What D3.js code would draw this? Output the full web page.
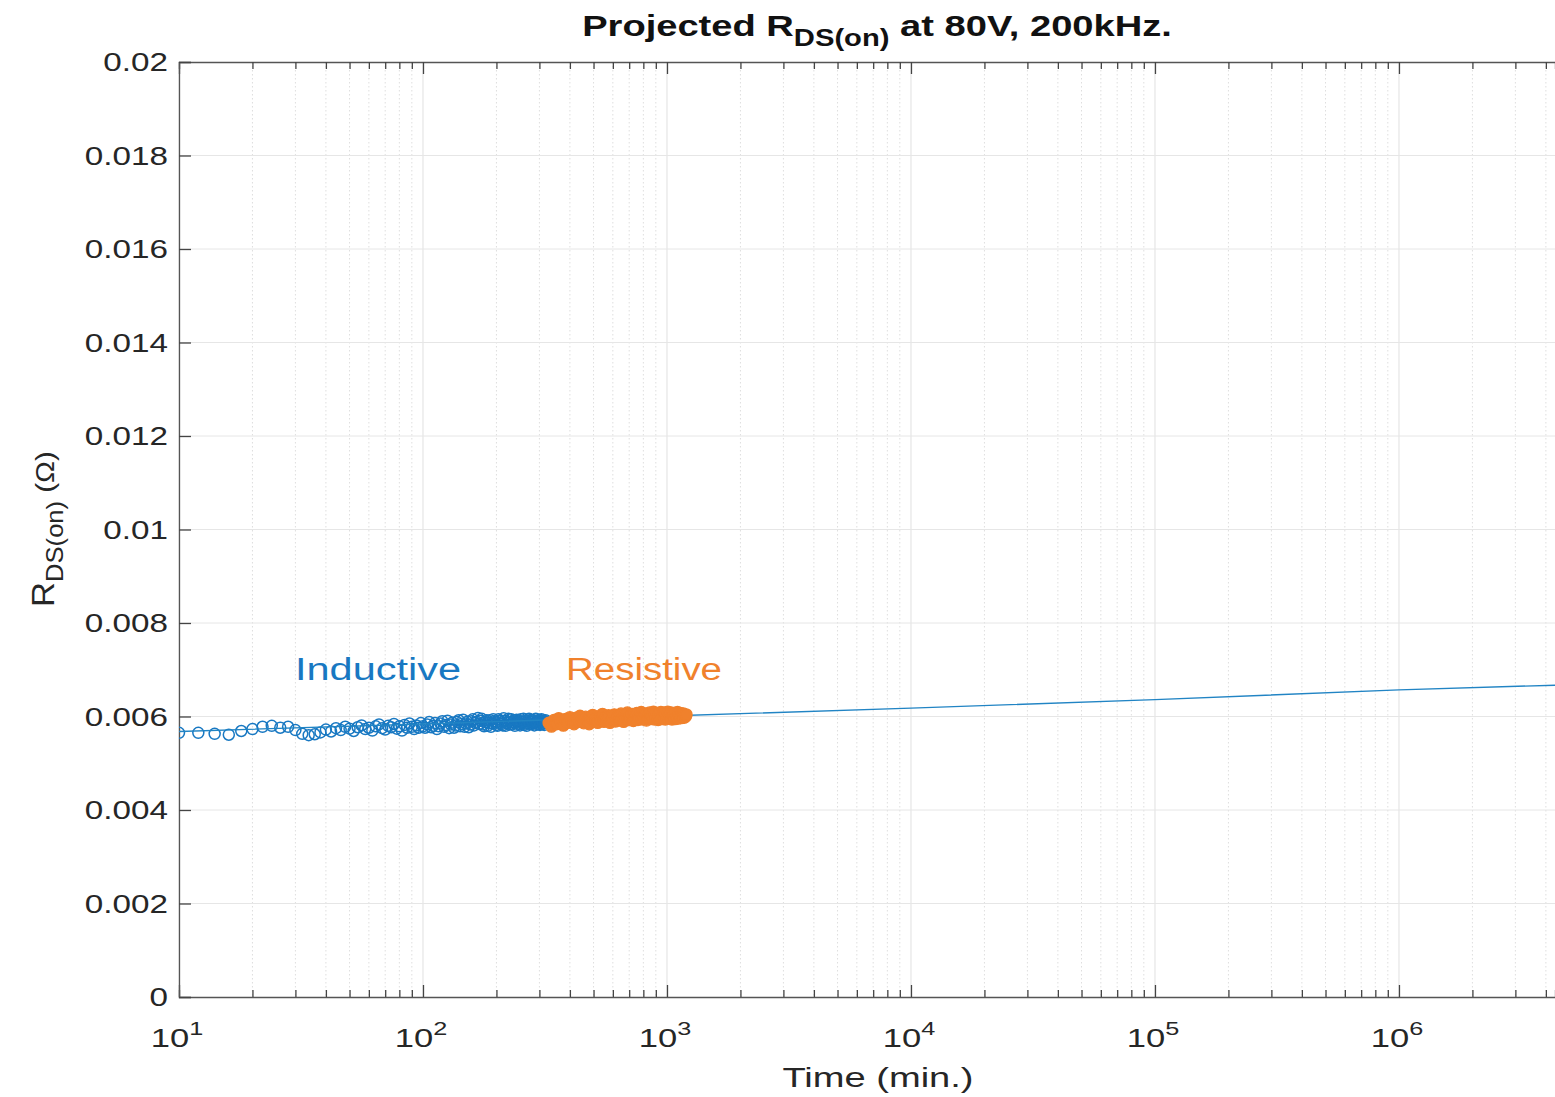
<!DOCTYPE html>
<html><head><meta charset="utf-8">
<script src="https://cdn.jsdelivr.net/npm/d3@7"></script>
<style>body{margin:0;background:#fff}svg{display:block}text{font-family:"Liberation Sans",Arial,sans-serif}</style>
</head><body>
<svg id="c" width="1555" height="1097"></svg>
<script>
// ---- data ----
const yTicks = [0, 0.002, 0.004, 0.006, 0.008, 0.01, 0.012, 0.014, 0.016, 0.018, 0.02];
const yTickLabels = ["0","0.002","0.004","0.006","0.008","0.01","0.012","0.014","0.016","0.018","0.02"];
const xDecades = [1, 2, 3, 4, 5, 6];
const inductiveT = [10,12,14,16,18,20,22,24,26,28,30,32,34,36,38,40,42,44,46,48,50,52,54,56,58,60,62,64,66,68,70,72,74,76,78,80,82,84,86,88,90,92,94,96,98,100,
 104,108,112,116,120,124,128,132,136,140,144,148,152,156,160,164,168,172,176,180,184,188,192,196,200,204,208,212,216,220,224,228,232,236,240,244,248,252,256,260,264,268,272,276,280,284,288,292,296,300,304,308,312,316,320,
 102,106,110,114,118,122,126,130,134,138,142,146,150,154,158,162,166,170,174,178,182,186,190,194,198,202,206,210,214,218,222,226,230,234,238,242,246,250,254,258,262,266,270,274,278,282,286,290,294,298,302,306,310,314,318];
const inductiveR = [.00565,.00565,.00563,.00561,.00569,.00573,.00578,.00580,.00576,.00578,.00571,.00563,.00560,.00562,.00566,.00572,.00568,.00575,.00571,.00578,.00574,.00569,.00577,.00581,.00573,.00576,.00570,.00579,.00583,.00575,.00572,.00580,.00577,.00584,.00574,.00579,.00570,.00582,.00576,.00585,.00578,.00573,.00581,.00576,.00586,.00579,
 .00583,.00577,.00586,.00579,.00590,.00582,.00575,.00587,.00581,.00592,.00584,.00578,.00589,.00583,.00594,.00586,.00597,.00591,.00583,.00588,.00580,.00592,.00585,.00590,.00582,.00594,.00587,.00581,.00591,.00586,.00595,.00588,.00583,.00592,.00586,.00590,.00584,.00594,.00588,.00582,.00591,.00587,.00595,.00589,.00584,.00592,.00586,.00590,.00583,.00593,.00588,.00584,.00591,.00586,.00589,
 .00576,.00588,.00580,.00573,.00585,.00578,.00591,.00583,.00576,.00588,.00579,.00593,.00585,.00577,.00590,.00581,.00589,.00584,.00595,.00579,.00592,.00586,.00578,.00594,.00587,.00580,.00591,.00584,.00596,.00580,.00589,.00583,.00594,.00587,.00580,.00593,.00588,.00581,.00590,.00595,.00585,.00580,.00591,.00584,.00593,.00588,.00581,.00595,.00587,.00591,.00582,.00594,.00587,.00582,.00592];
const resistiveT = [328,336,344,352,360,368,376,384,392,400,408,416,424,432,440,448,456,464,472,480,488,496,504,512,520,528,536,544,552,560,568,576,584,592,600,608,616,624,632,640,648,656,664,672,680,688,696,704,712,720,728,736,744,752,760,768,776,784,792,800,808,816,824,832,840,848,856,864,872,880,888,896,904,912,920,928,936,944,952,960,968,976,984,992,1000,1008,1016,1024,1032,1040,1048,1056,1064,1072,1080,1088,1096,1104,1112,1120,1128,1136,1144,1152,1160,1168,1176,1184,1192,1200];
const resistiveR = [.00586,.00579,.00592,.00584,.00596,.00588,.00581,.00594,.00587,.00598,.00590,.00584,.00597,.00589,.00601,.00592,.00586,.00599,.00591,.00584,.00597,.00603,.00590,.00596,.00587,.00600,.00593,.00605,.00589,.00598,.00592,.00602,.00587,.00599,.00594,.00604,.00590,.00597,.00601,.00592,.00606,.00595,.00589,.00603,.00597,.00608,.00593,.00600,.00595,.00605,.00591,.00602,.00597,.00607,.00593,.00601,.00596,.00609,.00594,.00603,.00598,.00606,.00592,.00601,.00597,.00608,.00595,.00603,.00599,.00610,.00594,.00604,.00598,.00607,.00593,.00602,.00597,.00609,.00595,.00604,.00599,.00608,.00594,.00603,.00598,.00610,.00596,.00605,.00600,.00608,.00594,.00603,.00599,.00607,.00595,.00604,.00600,.00609,.00596,.00605,.00601,.00607,.00597,.00604,.00600,.00606,.00598,.00603,.00600,.00604];
const fitT = [10, 100, 1000, 10000, 100000, 1000000, 4360000];
const fitR = [0.00568, 0.00584, 0.00601, 0.00618, 0.00636, 0.00657, 0.00667];

// ---- layout ----
const L = 179, R = 1555, T = 62, B = 997;
const SX = 1.33; // horizontal stretch of reference text
const svg = d3.select("#c");
const x = d3.scaleLog().domain([10, 4360000]).range([L, R]);
const y = d3.scaleLinear().domain([0, 0.02]).range([B, T]);

const minorVals = [];
for (let e = 1; e <= 6; e++) for (let m = 2; m <= 9; m++) { const v = m * Math.pow(10, e); if (v <= 4360000) minorVals.push(v); }
const majorVals = xDecades.map(e => Math.pow(10, e));
const g = svg.append("g");
g.selectAll(".mg").data(minorVals).join("line")
  .attr("x1", d => x(d)).attr("x2", d => x(d)).attr("y1", T).attr("y2", B)
  .attr("stroke", "#dedede").attr("stroke-width", 1).attr("stroke-dasharray", "1.5,2.5");
g.selectAll(".Mg").data(majorVals).join("line")
  .attr("x1", d => x(d)).attr("x2", d => x(d)).attr("y1", T).attr("y2", B)
  .attr("stroke", "#e0e0e0").attr("stroke-width", 1);
g.selectAll(".yg").data(yTicks.slice(1, -1)).join("line")
  .attr("x1", L).attr("x2", R).attr("y1", d => y(d)).attr("y2", d => y(d))
  .attr("stroke", "#e6e6e6").attr("stroke-width", 1);

const axB = d3.axisBottom(x).tickValues(minorVals.concat(majorVals)).tickSize(-7).tickFormat("");
const axT = d3.axisTop(x).tickValues(minorVals.concat(majorVals)).tickSize(-7).tickFormat("");
const axL = d3.axisLeft(y).tickValues(yTicks).tickSize(-12).tickFormat("");
const gb = svg.append("g").attr("transform", `translate(0,${B})`).call(axB);
const gt = svg.append("g").attr("transform", `translate(0,${T})`).call(axT);
const gl = svg.append("g").attr("transform", `translate(${L},0)`).call(axL);
[gb, gt].forEach(a => a.selectAll(".tick line").filter(d => majorVals.includes(d)).attr("y2", a === gb ? -12 : 12));
[gb, gt, gl].forEach(a => {
  a.select(".domain").attr("stroke", "#555").attr("stroke-width", 1.3);
  a.selectAll(".tick line").attr("stroke", "#444").attr("stroke-width", 1.3);
});

function stext(px, py, sx) {
  return svg.append("text").attr("transform", `translate(${px},${py}) scale(${sx},1)`);
}

yTicks.forEach((d, i) => {
  stext(L - 11, y(d) + 9, SX).attr("text-anchor", "end").attr("font-size", 25)
    .attr("fill", "#262626").text(yTickLabels[i]);
});

xDecades.forEach(e => {
  const t = stext(x(Math.pow(10, e)) - 2, 1047, SX).attr("text-anchor", "middle")
    .attr("font-size", 26).attr("fill", "#262626");
  t.append("tspan").text("10");
  t.append("tspan").attr("dy", -12).attr("font-size", 19).text(e);
});

const clipId = "clp";
svg.append("clipPath").attr("id", clipId).append("rect").attr("x", L).attr("y", T).attr("width", R - L).attr("height", B - T);
const plot = svg.append("g").attr("clip-path", `url(#${clipId})`);
const blue = "#1878c2", orange = "#f0812c";
plot.selectAll(".ind").data(inductiveT).join("circle")
  .attr("cx", d => x(d)).attr("cy", (d, i) => y(inductiveR[i])).attr("r", 5.5)
  .attr("fill", "none").attr("stroke", blue).attr("stroke-width", 1.5);
const line = d3.line().x((d, i) => x(fitT[i])).y((d, i) => y(fitR[i]));
plot.append("path").datum(fitT).attr("d", line).attr("fill", "none")
  .attr("stroke", "#2184c4").attr("stroke-width", 1.4);
plot.selectAll(".res").data(resistiveT).join("circle")
  .attr("cx", d => x(d)).attr("cy", (d, i) => y(resistiveR[i])).attr("r", 5.8)
  .attr("fill", orange).attr("stroke", orange).attr("stroke-width", 1.3);

svg.append("text").attr("x", 295).attr("y", 680).attr("font-family", "'Open Sans',sans-serif")
  .attr("font-size", 31).attr("fill", blue).attr("textLength", 166).attr("lengthAdjust", "spacingAndGlyphs").text("Inductive");
svg.append("text").attr("x", 566).attr("y", 680).attr("font-family", "'Open Sans',sans-serif")
  .attr("font-size", 31).attr("fill", orange).attr("textLength", 156).attr("lengthAdjust", "spacingAndGlyphs").text("Resistive");

const title = stext(877, 36, 1.27).attr("text-anchor", "middle")
  .attr("font-size", 30).attr("font-weight", "bold").attr("fill", "#111");
title.append("tspan").text("Projected R");
title.append("tspan").attr("dy", 10).attr("font-size", 23).text("DS(on)");
title.append("tspan").attr("dy", -10).text(" at 80V, 200kHz.");

stext(878, 1087, 1.36).attr("text-anchor", "middle")
  .attr("font-size", 28).attr("fill", "#262626").text("Time (min.)");
const yl = svg.append("text").attr("transform", "translate(54,529) rotate(-90) scale(1.28,1.15)").attr("text-anchor", "middle")
  .attr("font-size", 27).attr("fill", "#262626");
yl.append("tspan").text("R");
yl.append("tspan").attr("dy", 8).attr("font-size", 20).text("DS(on)");
yl.append("tspan").attr("dy", -8).attr("font-size", 23).text(" (Ω)");
</script>
</body></html>
